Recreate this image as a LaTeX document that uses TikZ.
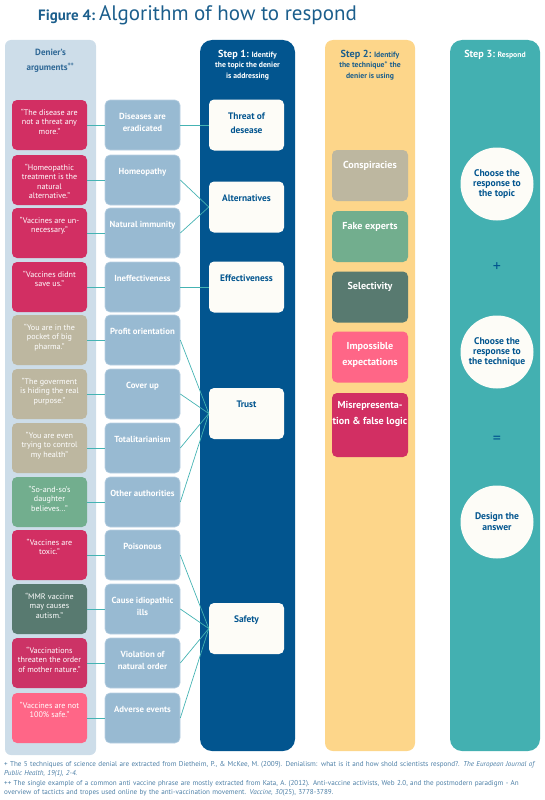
\documentclass[tikz,border=0pt]{standalone}
\usepackage{fontspec}
\setmainfont{PT Sans}
\definecolor{titleblue}{HTML}{1B5E8C}
\definecolor{colA}{HTML}{CDDDE9}
\definecolor{topicc}{HTML}{98BAD2}
\definecolor{topicedge}{HTML}{B8D0E2}
\definecolor{stepone}{HTML}{02558F}
\definecolor{offwhite}{HTML}{FDFCF7}
\definecolor{steptwo}{HTML}{FDD68A}
\definecolor{stepthree}{HTML}{43B0B1}
\definecolor{linkc}{HTML}{45B3B3}
\definecolor{crimson}{HTML}{D22F63}
\definecolor{crimsonb}{HTML}{CC3366}
\definecolor{khaki}{HTML}{BDB7A0}
\definecolor{sage}{HTML}{72AE8E}
\definecolor{slate}{HTML}{587A70}
\definecolor{pinkc}{HTML}{FF6687}
\definecolor{notec}{HTML}{4D7FA6}
\definecolor{headblue}{HTML}{2F6896}
\tikzset{
  colbox/.style={inner sep=0pt, draw=none},
  quotebox/.style={rounded corners=5pt, minimum width=75pt, minimum height=50pt, inner sep=0pt},
  topicbox/.style={fill=topicc, draw=topicedge, line width=0.6pt, rounded corners=5pt, minimum width=75pt, minimum height=50pt, inner sep=0pt},
  whitebox/.style={fill=offwhite, rounded corners=5pt, minimum width=75pt, minimum height=51pt, inner sep=0pt},
  techbox/.style={rounded corners=5pt, minimum width=76pt, inner sep=0pt},
  qtext/.style={text=white, font=\fontsize{8.1}{9.5}\selectfont, align=center, anchor=north, inner sep=0pt},
  ttext/.style={text=white, font=\bfseries\fontsize{8.8}{12}\selectfont, align=center, anchor=north, inner sep=0pt},
  wtext/.style={text=stepone, font=\bfseries\fontsize{9.4}{14}\selectfont, align=center, anchor=north, inner sep=0pt},
  tectext/.style={text=white, font=\bfseries\fontsize{10.1}{15.5}\selectfont, align=center, anchor=north, inner sep=0pt},
  circ/.style={circle, fill=offwhite, minimum size=73pt, inner sep=0pt, text=stepone, font=\bfseries\fontsize{9.6}{11}\selectfont, align=center},
  link/.style={draw=linkc, line width=0.7pt},
}
\newcommand\argrow[5]{%
  \node[quotebox, fill=#3] (q#1) at (49.5,#2+25) {};
  \node[qtext] (qt#1) at (49.5,#2+8.5) {#4};
  \node[topicbox] (t#1) at (142.5,#2+25) {};
  \node[ttext] (tt#1) at (142.5,#2+13.5) {#5};
  \draw[link] (q#1.east) -- (t#1.west);
}
\begin{document}
\begin{tikzpicture}[x=1pt,y=-1pt]
\useasboundingbox (0,0) rectangle (545,800);
% title
\node[anchor=base west, inner sep=0pt, text=titleblue] (title) at (38,21)
  {{\bfseries\fontsize{15}{15}\selectfont Figure 4:}\hspace{4pt}{\fontsize{21}{21}\selectfont Algorithm of how to respond}};
% columns
\node[colbox, fill=colA, rounded corners=6pt, minimum width=91pt, minimum height=715pt] (denier) at (50.5,397.5) {};
\node[colbox, fill=stepone, rounded corners=12pt, minimum width=95pt, minimum height=711pt] (col1) at (247.5,395.5) {};
\node[colbox, fill=steptwo, rounded corners=8pt, minimum width=90pt, minimum height=711pt] (col2) at (370,395.5) {};
\node[colbox, fill=stepthree, rounded corners=12pt, minimum width=90pt, minimum height=711pt] (col3) at (495,395.5) {};
% headers
\node[anchor=north, inner sep=0pt, align=center, text=headblue, font=\bfseries\fontsize{9}{14.5}\selectfont] (h0) at (50.5,49)
  {Denier's\\arguments\textsuperscript{++}};
\node[anchor=north, inner sep=0pt, align=center, text=white, font=\bfseries\fontsize{7.7}{10.3}\selectfont] (h1) at (247.5,50)
  {{\fontsize{10.2}{10.3}\selectfont Step 1:} Identify\\the topic the denier\\is addressing};
\node[anchor=north, inner sep=0pt, align=center, text=titleblue, font=\bfseries\fontsize{7.7}{10.3}\selectfont] (h2) at (370,50)
  {{\fontsize{10.2}{10.3}\selectfont Step 2:} Identify\\the technique\textsuperscript{+} the\\denier is using};
\node[anchor=north, inner sep=0pt, align=center, text=white, font=\bfseries\fontsize{7.7}{10.3}\selectfont] (h3) at (495,50)
  {{\fontsize{10.2}{10.3}\selectfont Step 3:} Respond};
% step 1 boxes
\node[whitebox] (s1) at (246.5,125) {};
\node[wtext] (st1) at (246.5,112.5) {Threat of\\desease};
\node[whitebox] (s2) at (246.5,207) {};
\node[wtext] (st2) at (246.5,194.5) {Alternatives};
\node[whitebox] (s3) at (246.5,287) {};
\node[wtext] (st3) at (246.5,274.5) {Effectiveness};
\node[whitebox] (s4) at (246.5,413.5) {};
\node[wtext] (st4) at (246.5,401) {Trust};
\node[whitebox] (s5) at (246.5,628.5) {};
\node[wtext] (st5) at (246.5,616) {Safety};
% arguments
\argrow{1}{100}{crimson}{“The disease are\\not a threat any\\more.”}{Diseases are\\eradicated}
\argrow{2}{155}{crimson}{“Homeopathic\\treatment is the\\natural\\alternative.”}{Homeopathy}
\argrow{3}{208}{crimson}{“Vaccines are un-\\necessary.”}{Natural immunity}
\argrow{4}{262}{crimson}{“Vaccines didnt\\save us.”}{Ineffectiveness}
\argrow{5}{315}{khaki}{“You are in the\\pocket of big\\pharma.”}{Profit orientation}
\argrow{6}{369}{khaki}{“The goverment\\is hiding the real\\purpose.”}{Cover up}
\argrow{7}{423}{khaki}{“You are even\\trying to control\\my health”}{Totalitarianism}
\argrow{8}{477}{sage}{“So-and-so's\\daughter\\believes...”}{Other authorities}
\argrow{9}{530}{crimson}{“Vaccines are\\toxic.”}{Poisonous}
\argrow{10}{584}{slate}{“MMR vaccine\\may causes\\autism.”}{Cause idiopathic\\ills}
\argrow{11}{638}{crimsonb}{“Vaccinations\\threaten the order\\of mother nature.”}{Violation of\\natural order}
\argrow{12}{693}{pinkc}{“Vaccines are not\\100\% safe.”}{Adverse events}
% topic links
\draw[link] (t1.east) -- (s1.west);
\draw[link] (t2.east) -- (s2.west);
\draw[link] (t3.east) -- (s2.west);
\draw[link] (t4.east) -- (s3.west);
\foreach \i in {5,6,7,8} \draw[link] (t\i.east) -- (s4.west);
\foreach \i in {9,10,11,12} \draw[link] (t\i.east) -- (s5.west);
% step 2 boxes
\node[techbox, fill=khaki, minimum height=51pt] (k1) at (370,175.5) {};
\node[tectext] (kt1) at (370,161.5) {Conspiracies};
\node[techbox, fill=sage, minimum height=51pt] (k2) at (370,236.5) {};
\node[tectext] (kt2) at (370,222.5) {Fake experts};
\node[techbox, fill=slate, minimum height=51pt] (k3) at (370,297) {};
\node[tectext] (kt3) at (370,282.5) {Selectivity};
\node[techbox, fill=pinkc, minimum height=51pt] (k4) at (370,357) {};
\node[tectext] (kt4) at (370,342.5) {Impossible\\expectations};
\node[techbox, fill=crimson, minimum height=64pt] (k5) at (370,425) {};
\node[tectext] (kt5) at (370,401.5) {Misrepresenta-\\tion \& false logic};
% step 3
\node[circ] (c1) at (497,184) {\raisebox{4pt}{\begin{tabular}{@{}c@{}}Choose the\\[-1.2pt]response to\\[-1.2pt]the topic\end{tabular}}};
\node[text=stepone, font=\fontsize{16}{16}\selectfont, inner sep=0pt] (plus) at (497,267) {+};
\node[circ] (c2) at (497,352) {\raisebox{4pt}{\begin{tabular}{@{}c@{}}Choose the\\[-1.2pt]response to\\[-1.2pt]the technique\end{tabular}}};
\node[text=stepone, font=\fontsize{16}{16}\selectfont, inner sep=0pt] (eq) at (497,440) {=};
\node[circ] (c3) at (497,522) {Design the\\answer};
% footnotes
\node[anchor=north west, inner sep=0pt, text width=541pt, align=left, text=notec, font=\fontsize{7.1}{9.4}\selectfont] (notes) at (4,761)
  {+ The 5 techniques of science denial are extracted from Dietheim, P., \& McKee, M. (2009). Denialism: what is it and how shold scientists respond?. \textit{The European Journal of}\\
   \textit{Public Health, 19(1), 2-4.}\\
   ++ The single example of a common anti vaccine phrase are mostly extracted from Kata, A. (2012). Anti-vaccine activists, Web 2.0, and the postmodern paradigm - An\\
   overview of tacticts and tropes used online by the anti-vaccination movement. \textit{Vaccine, 30}(25), 3778-3789.};
\end{tikzpicture}
\end{document}
